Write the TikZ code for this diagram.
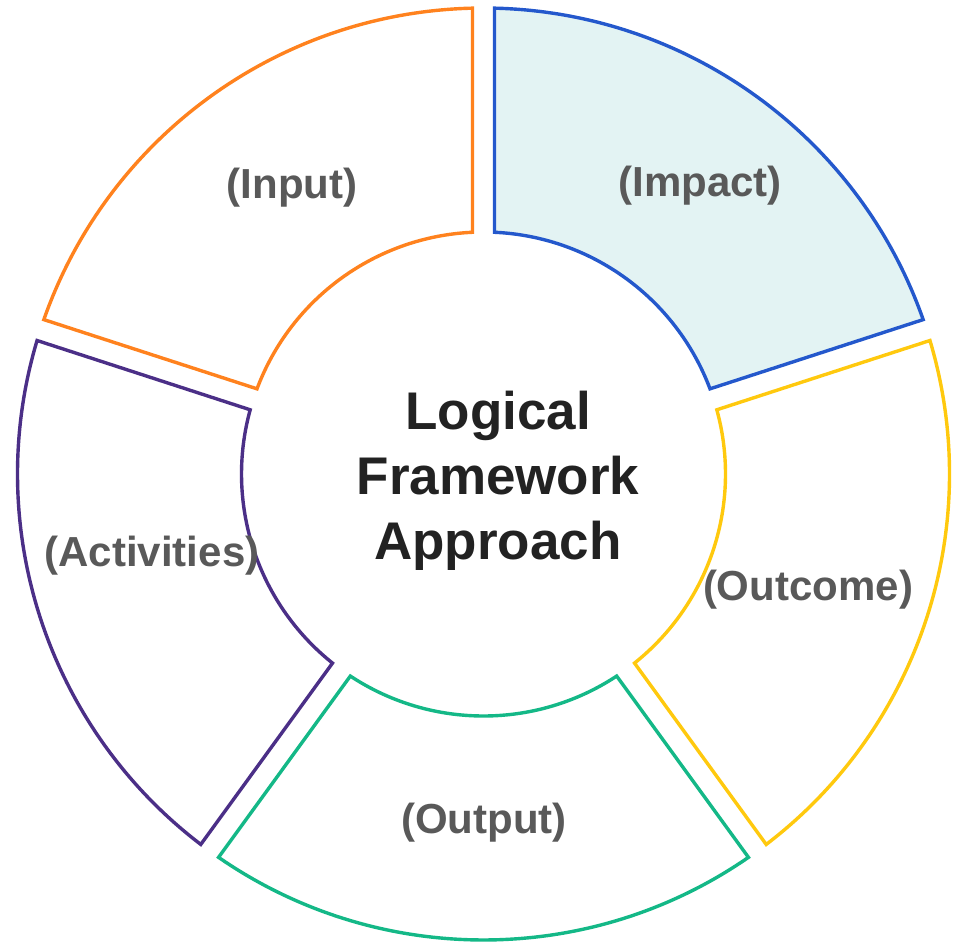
\documentclass[tikz,border=0pt]{standalone}
\usepackage{fontspec}
\setmainfont{Liberation Sans}
\definecolor{cinput}{HTML}{FF821E}
\definecolor{cimpact}{HTML}{2458CC}
\definecolor{cimpactbg}{HTML}{E3F3F3}
\definecolor{coutcome}{HTML}{FFC90E}
\definecolor{coutput}{HTML}{14B887}
\definecolor{cactiv}{HTML}{4B2F87}
\definecolor{clabel}{HTML}{595959}
\definecolor{ccenter}{HTML}{222222}
\begin{document}
\begin{tikzpicture}[x=1pt, y=1pt,
  seg/.style={line width=3.4pt, line join=miter},
  lbl/.style={font=\fontsize{42}{50}\selectfont\bfseries, text=clabel, inner sep=0pt}]
\useasboundingbox (0,0) rectangle (957,-943);
\begin{scope}[shift={(483.5,-474)}]
\foreach \a/\col/\fil in {18/cimpact/cimpactbg, 90/cinput/white, 162/cactiv/white, 234/coutput/white, 306/coutcome/white}{
  \draw[seg, draw=\col, fill=\fil] (\a+1.35:466pt) arc[start angle=\a+1.35, end angle=\a+72-1.35, radius=466pt]
    -- (\a+72-2.61:242pt) arc[start angle=\a+72-2.61, end angle=\a+2.61, radius=242pt] -- cycle;
}
\end{scope}
\node[lbl] (impact) at (700,-186) {(Impact)};
\node[lbl] (input) at (292,-188) {(Input)};
\node[lbl] (activ) at (152,-556) {(Activities)};
\node[lbl] (outcome) at (808,-590) {(Outcome)};
\node[lbl] (output) at (484,-823) {(Output)};
\node[font=\fontsize{53}{65}\selectfont\bfseries, text=ccenter, align=center, inner sep=0pt] (lfa) at (498,-481) {Logical\\Framework\\Approach};
\end{tikzpicture}
\end{document}
